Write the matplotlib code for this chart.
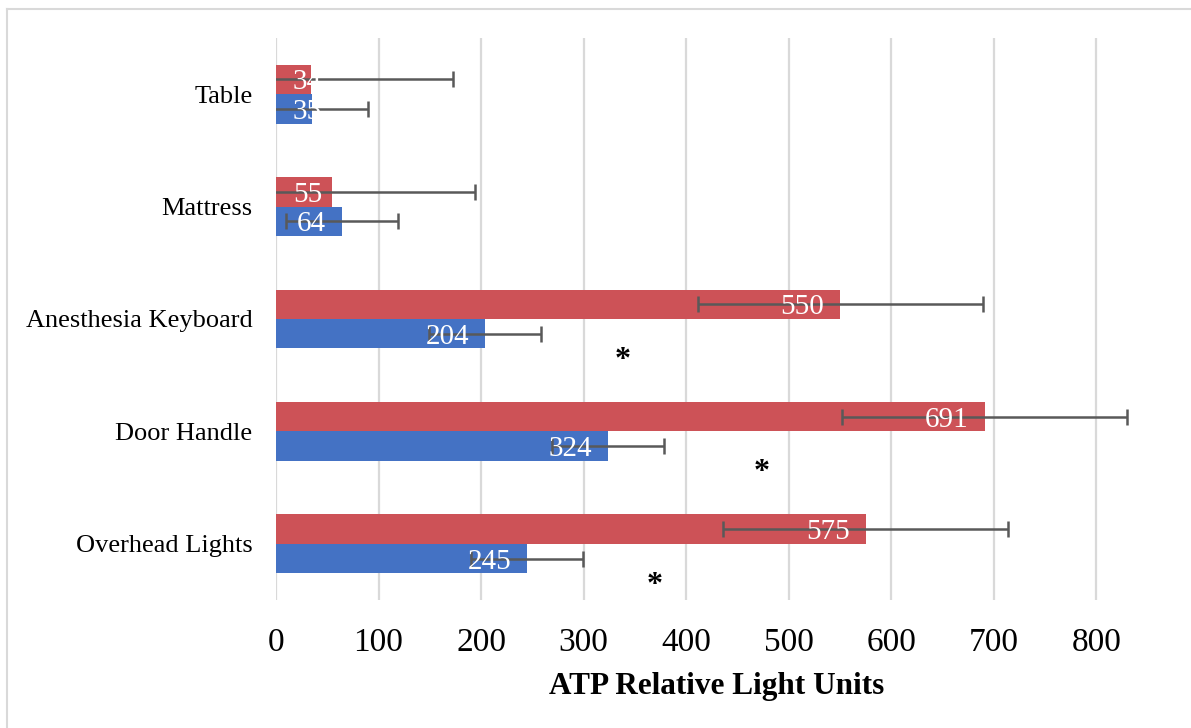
import matplotlib
matplotlib.use("Agg")
import matplotlib.pyplot as plt
from matplotlib.lines import Line2D
import numpy as np

plt.rcParams['font.family'] = ['Liberation Serif', 'DejaVu Serif']

# categories listed bottom to top
categories = ["Overhead Lights", "Door Handle", "Anesthesia Keyboard", "Mattress", "Table"]
red_vals = [575, 691, 550, 55, 34]
blue_vals = [245, 324, 204, 64, 35]
red_err = [139, 139, 139, 139, 139]
blue_err = [54.5, 54.5, 54.5, 54.5, 54.5]
star_x = [369, 474, 338]   # asterisks for the first three categories
star_cats = [0, 1, 2]

red = "#CD5257"
blue = "#4472C4"
err_col = "#595959"

fig = plt.figure(figsize=(11.91, 7.28), dpi=100)
ax = fig.add_axes([276/1191, 1 - 600/728, (1158 - 276)/1191, (600 - 38)/728])

y = np.arange(len(categories))
h = 0.262

ax.barh(y + h/2, red_vals, height=h, color=red, zorder=2)
ax.barh(y - h/2, blue_vals, height=h, color=blue, zorder=2)

ax.errorbar(red_vals, y + h/2, xerr=red_err, fmt='none', ecolor=err_col,
            elinewidth=1.8, capsize=6, capthick=1.8, zorder=3)
ax.errorbar(blue_vals, y - h/2, xerr=blue_err, fmt='none', ecolor=err_col,
            elinewidth=1.8, capsize=6, capthick=1.8, zorder=3)

# data labels, inside end (or pushed to the bar base when the bar is short)
for vals, off in [(red_vals, h/2), (blue_vals, -h/2)]:
    for i, v in enumerate(vals):
        if v < 60:
            ax.annotate(str(v), (0, y[i] + off), xytext=(17, -3), textcoords='offset pixels',
                        ha='left', va='center', color='white', fontsize=21, zorder=5)
        else:
            ax.annotate(str(v), (v, y[i] + off), xytext=(-16, -3), textcoords='offset pixels',
                        ha='right', va='center', color='white', fontsize=21, zorder=5)

for sx, c in zip(star_x, star_cats):
    ax.text(sx, c - 0.37, "*", ha='center', va='center', fontsize=23,
            fontweight='bold', color='black')

ax.set_xlim(0, 860)
ax.set_ylim(-0.5, 4.5)
ax.set_xticks(range(0, 900, 100))
ax.set_yticks(y)
ax.set_yticklabels(categories, fontsize=19)
ax.tick_params(axis='x', labelsize=24, length=0, pad=20)
ax.tick_params(axis='y', length=0, pad=17)
ax.grid(axis='x', color='#D9D9D9', linewidth=1.6, zorder=0)
ax.set_axisbelow(True)
for s in ax.spines.values():
    s.set_visible(False)

ax.set_xlabel("ATP Relative Light Units", fontsize=22.5, fontweight='bold', labelpad=10)

# outer chart frame (left and top only visible)
fig.add_artist(Line2D([7/1191, 7/1191], [0, 1 - 9/728], color='#D9D9D9', linewidth=1.5))
fig.add_artist(Line2D([7/1191, 1], [1 - 9/728, 1 - 9/728], color='#D9D9D9', linewidth=1.5))

fig.savefig("out.png", dpi=100)
